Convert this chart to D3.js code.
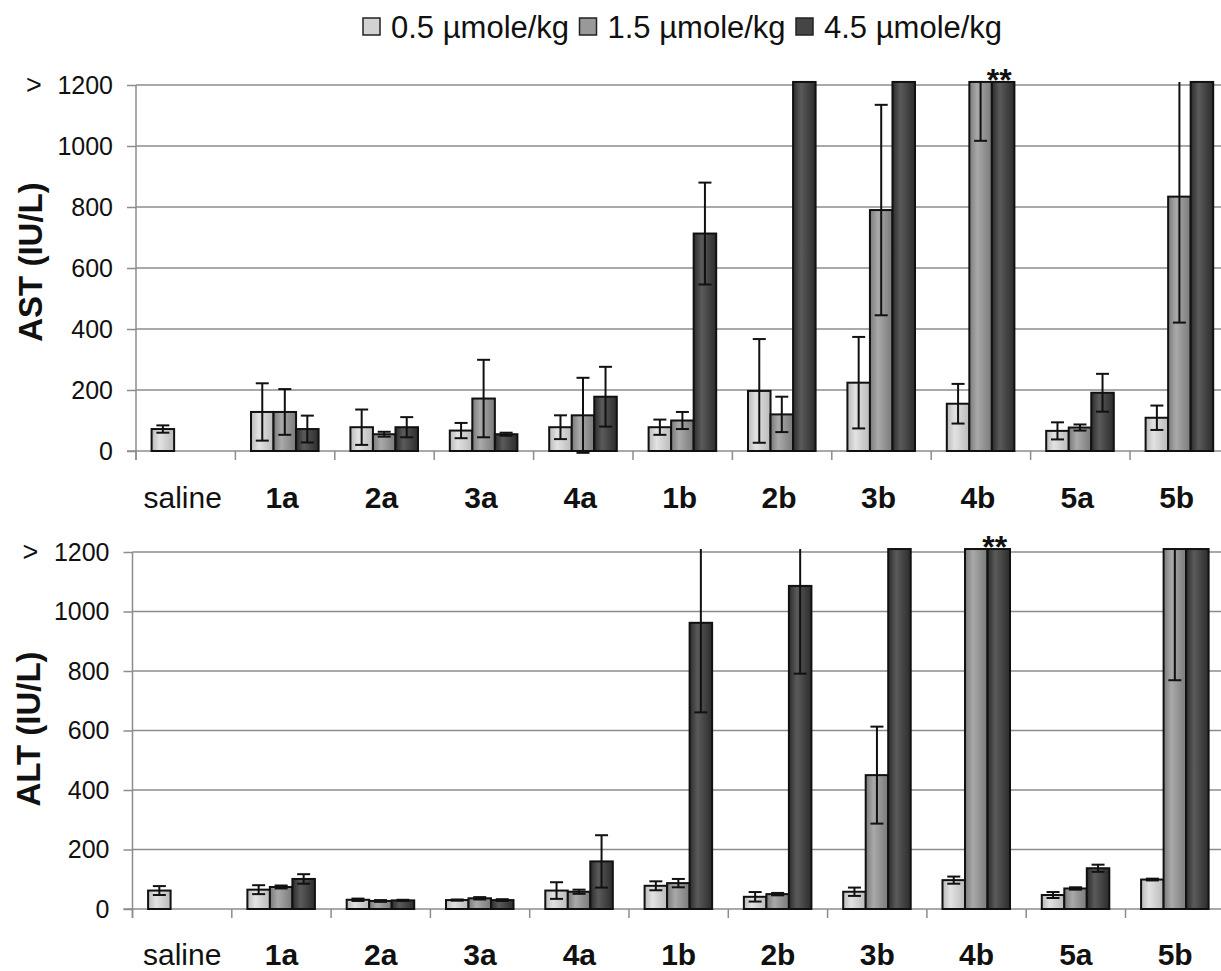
<!DOCTYPE html>
<html>
<head>
<meta charset="utf-8">
<script src="https://cdn.jsdelivr.net/npm/d3@7"></script>
<style>
  html, body { margin: 0; padding: 0; background: #fff; }
  svg { display: block; font-family: "Liberation Sans", Arial, sans-serif; }
</style>
</head>
<body>
<svg id="chart" width="1221" height="971"></svg>
<script>
// ---------------- DATA ----------------
const categories = ["saline", "1a", "2a", "3a", "4a", "1b", "2b", "3b", "4b", "5a", "5b"];
const doses = ["0.5 µmole/kg", "1.5 µmole/kg", "4.5 µmole/kg"];
const yTicks = [0, 200, 400, 600, 800, 1000, 1200];
const OVER = 1210; // drawn height for values "> 1200"

// AST (IU/L) means
const ast05 = [72, 128, 78, 67, 78, 78, 197, 224, 155, 66, 109];
const ast15 = [null, 128, 55, 172, 117, 100, 120, 790, OVER, 77, 834];
const ast45 = [null, 72, 78, 55, 178, 713, OVER, OVER, OVER, 191, OVER];
// AST error bars
const ast05Err = [12, 94, 58, 25, 39, 25, 170, 150, 65, 28, 40];
const ast15Err = [0, 75, 8, 127, 123, 28, 58, 345, 193, 10, 413];
const ast45Err = [0, 44, 33, 5, 98, 167, 0, 0, 0, 62, 0];

// ALT (IU/L) means
const alt05 = [62, 65, 31, 30, 62, 78, 41, 58, 97, 47, 99];
const alt15 = [null, 74, 27, 36, 58, 87, 50, 450, OVER, 69, OVER];
const alt45 = [null, 101, 29, 30, 160, 962, 1086, OVER, OVER, 137, OVER];
// ALT error bars
const alt05Err = [15, 15, 4, 2, 28, 15, 16, 14, 12, 10, 3];
const alt15Err = [0, 5, 3, 4, 7, 14, 4, 163, 0, 4, 441];
const alt45Err = [0, 16, 2, 3, 88, 301, 295, 0, 0, 12, 0];

const significant = ["4b"]; // marked with **

// ---------------- DRAW ----------------
const svg = d3.select("#chart");
svg.append("rect").attr("width", 1221).attr("height", 971).attr("fill", "#fff");

const gradColors = [
  ["#bababa", "#e2e2e2"],
  ["#7a7a7a", "#a9a9a9"],
  ["#2c2c2c", "#5a5a5a"]
];
const defs = svg.append("defs");
gradColors.forEach((c, i) => {
  const g = defs.append("linearGradient").attr("id", "g" + i)
    .attr("x1", "0").attr("x2", "1").attr("y1", "0").attr("y2", "0");
  g.append("stop").attr("offset", "0%").attr("stop-color", c[0]);
  g.append("stop").attr("offset", "35%").attr("stop-color", c[1]);
  g.append("stop").attr("offset", "100%").attr("stop-color", c[0]);
});
const legendFill = ["#d2d2d2", "#999999", "#454545"];

// Legend
const legX = d3.scalePoint().domain(doses).range([363, 796]);
const leg = svg.append("g");
doses.forEach((d, i) => {
  leg.append("rect").attr("x", legX(d)).attr("y", 18).attr("width", 17).attr("height", 17)
    .attr("fill", legendFill[i]).attr("stroke", "#222").attr("stroke-width", 1.5);
  leg.append("text").attr("x", legX(d) + 28).attr("y", 27).attr("dy", "0.36em")
    .attr("font-size", 31).attr("fill", "#111").text(d);
});

function panel(opts) {
  const { x0, step, y0, y1200, labelY, title, titleX, titleY, means, errs, labelDx } = opts;
  const W = 1221;
  const g = svg.append("g");
  const y = d3.scaleLinear().domain([0, 1200]).range([y0, y1200]);
  const x = d3.scaleBand().domain(categories).range([x0, x0 + step * categories.length]);
  const bw = x.bandwidth();
  const xs = d3.scaleBand().domain(doses).range([bw * 0.157, bw * 0.157 + bw * 0.68]);

  // gridlines
  g.append("g").selectAll("line").data(yTicks).join("line")
    .attr("x1", d => d === 0 ? x0 - 9 : x0).attr("x2", W)
    .attr("y1", d => y(d)).attr("y2", d => y(d))
    .attr("stroke", "#8c8c8c").attr("stroke-width", 1.5);

  // bars
  const bars = [];
  doses.forEach((dose, di) => {
    categories.forEach((c, ci) => {
      const v = means[di][ci];
      if (v == null) return;
      bars.push({ c, dose, di, v, e: errs[di][ci] });
    });
  });
  g.append("g").selectAll("rect").data(bars).join("rect")
    .attr("x", d => x(d.c) + xs(d.dose))
    .attr("width", xs.bandwidth())
    .attr("y", d => y(d.v))
    .attr("height", d => y(0) - y(d.v))
    .attr("fill", d => `url(#g${d.di})`)
    .attr("stroke", "#111").attr("stroke-width", 2);

  // error bars
  const eg = g.append("g").attr("stroke", "#111").attr("stroke-width", 2);
  bars.filter(d => d.e > 0).forEach(d => {
    const cx = x(d.c) + xs(d.dose) + xs.bandwidth() / 2;
    const lo = d.v - d.e;
    const hi = d.v + d.e;
    const hiC = Math.min(hi, OVER);
    eg.append("line").attr("x1", cx).attr("x2", cx).attr("y1", y(lo)).attr("y2", y(hiC));
    eg.append("line").attr("x1", cx - 6.5).attr("x2", cx + 6.5).attr("y1", y(lo)).attr("y2", y(lo));
    if (hi <= OVER && d.v < OVER) {
      eg.append("line").attr("x1", cx - 6.5).attr("x2", cx + 6.5).attr("y1", y(hi)).attr("y2", y(hi));
    }
  });

  // significance markers
  significant.forEach(c => {
    g.append("text")
      .attr("x", x(c) + xs(doses[2]) + xs.bandwidth() / 2 - 4)
      .attr("y", y(OVER) + 9)
      .attr("text-anchor", "middle").attr("font-size", 32).attr("font-weight", "bold")
      .attr("fill", "#111").text("**");
  });

  // y axis
  const ya = d3.axisLeft(y).tickValues(yTicks).tickSize(9).tickPadding(14).tickFormat(d3.format("d"));
  const yg = g.append("g").attr("transform", `translate(${x0},0)`).call(ya);
  yg.select(".domain").remove();
  yg.selectAll(".tick line").attr("stroke", "#8c8c8c").attr("stroke-width", 1.5);
  yg.selectAll(".tick text").attr("font-size", 25).attr("fill", "#111")
    .attr("font-family", "Liberation Sans, Arial, sans-serif");
  g.append("line").attr("x1", x0).attr("x2", x0).attr("y1", y(1200)).attr("y2", y0 + 9)
    .attr("stroke", "#8c8c8c").attr("stroke-width", 1.5);
  g.append("text").attr("x", x0 - 102).attr("y", y(1200)).attr("dy", "0.34em")
    .attr("text-anchor", "middle").attr("font-size", 27).attr("fill", "#111").text(">");

  // category ticks at boundaries
  const bounds = categories.map(c => x(c)).concat([x.range()[1]]);
  g.append("g").selectAll("line").data(bounds).join("line")
    .attr("x1", d => d).attr("x2", d => d).attr("y1", y0).attr("y2", y0 + 9)
    .attr("stroke", "#8c8c8c").attr("stroke-width", 1.5);

  // category labels
  g.append("g").selectAll("text").data(categories).join("text")
    .attr("x", c => x(c) + bw / 2 + labelDx)
    .attr("y", labelY).attr("dy", "0.35em")
    .attr("text-anchor", "middle").attr("font-size", 30)
    .attr("font-weight", c => c === "saline" ? "normal" : "bold")
    .attr("fill", "#111").text(c => c);

  // axis title
  g.append("text").attr("transform", `translate(${titleX},${titleY}) rotate(-90)`)
    .attr("text-anchor", "middle").attr("dy", "0.35em")
    .attr("font-size", 33).attr("font-weight", "bold").attr("fill", "#111").text(title);
}

panel({
  x0: 136, step: 99.4, y0: 451, y1200: 85, labelY: 497, labelDx: -3,
  title: "AST (IU/L)", titleX: 30, titleY: 262,
  means: [ast05, ast15, ast45], errs: [ast05Err, ast15Err, ast45Err]
});
panel({
  x0: 132.5, step: 99.3, y0: 909, y1200: 552, labelY: 954, labelDx: 0,
  title: "ALT (IU/L)", titleX: 28, titleY: 729,
  means: [alt05, alt15, alt45], errs: [alt05Err, alt15Err, alt45Err]
});
</script>
</body>
</html>
